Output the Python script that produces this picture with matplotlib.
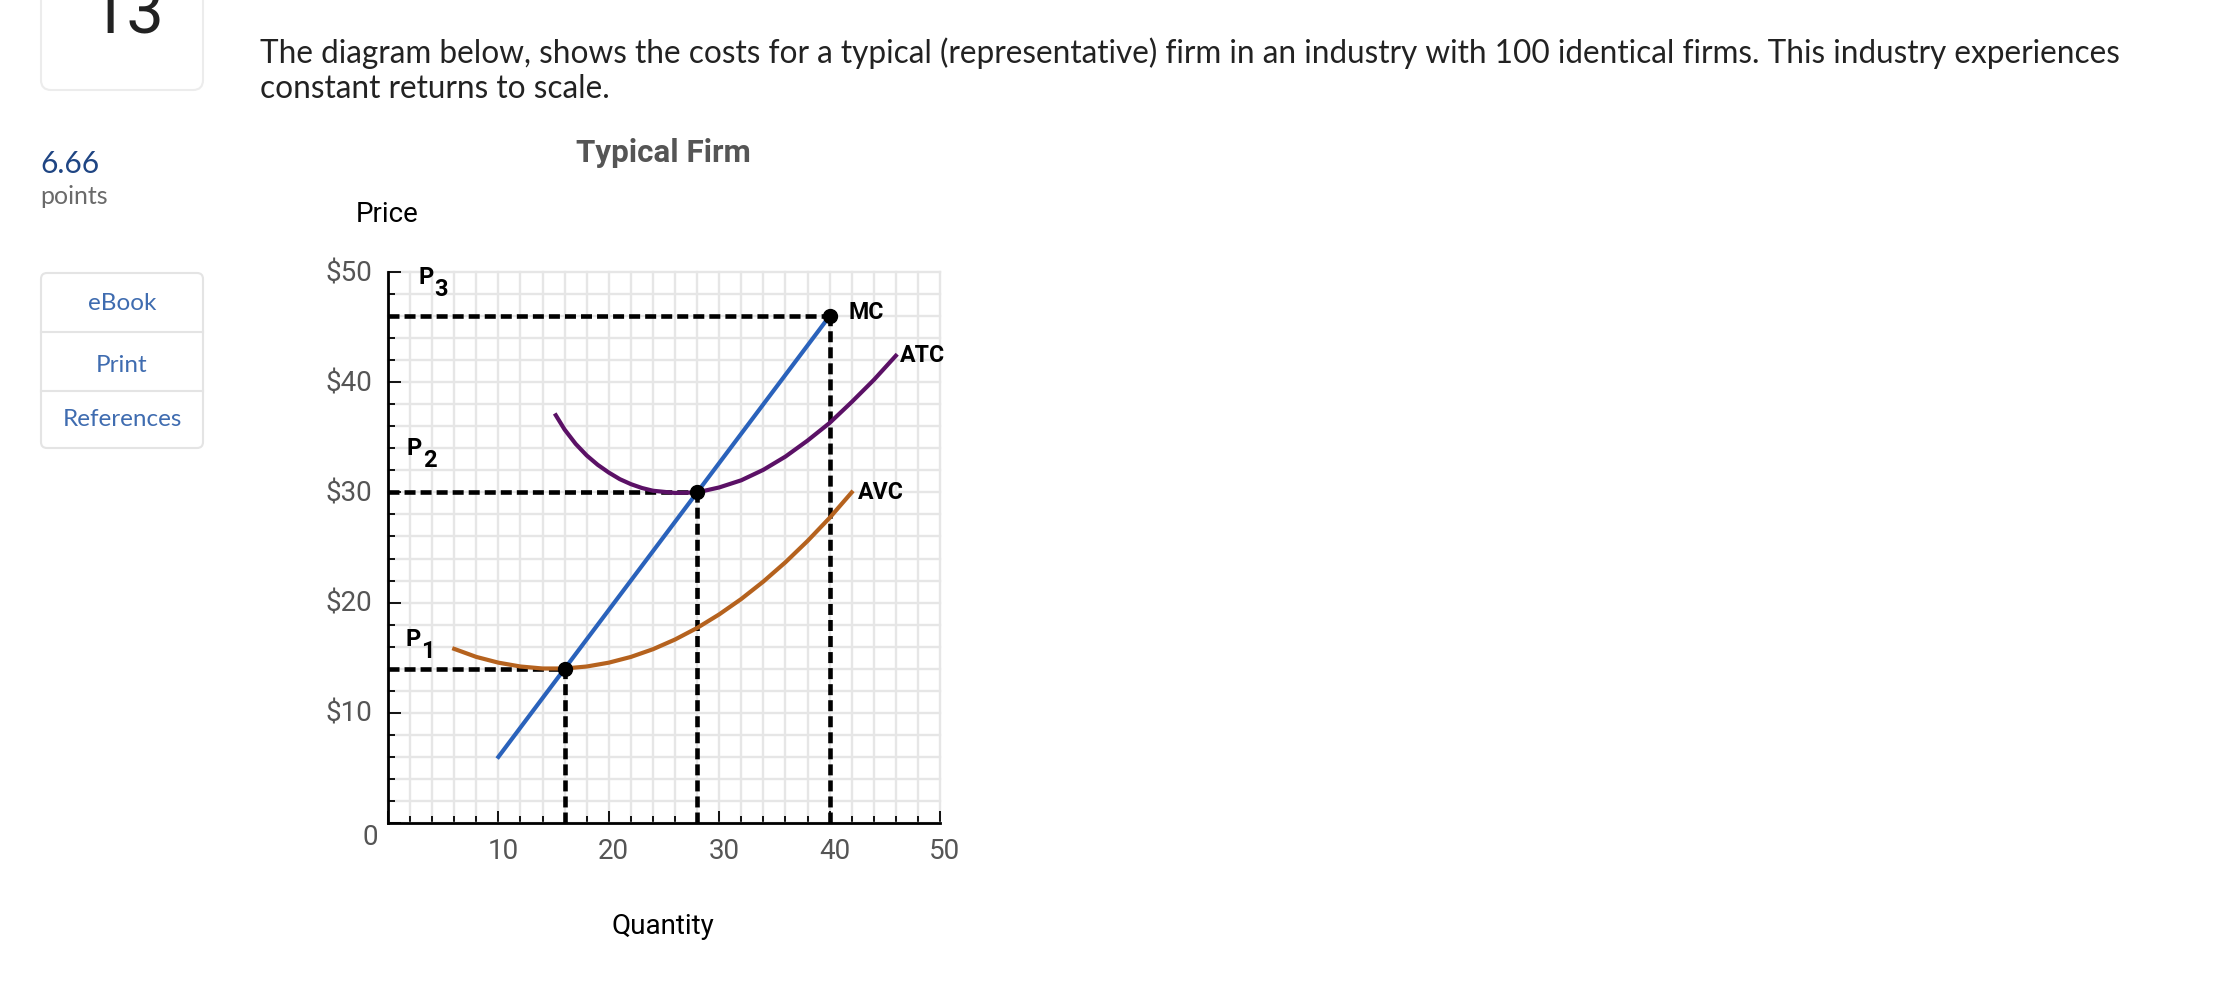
import matplotlib
matplotlib.use("Agg")
import matplotlib.pyplot as plt
from matplotlib.patches import FancyBboxPatch

W, H = 2218, 982

# values
mc_q = [10, 40]
mc_p = [6, 46]
atc_q = [15.2, 16, 17, 18, 19, 20, 21, 22, 23, 24, 26, 28, 30, 32, 34, 36, 38, 40, 42, 44, 46]
atc_p = [37.0, 35.7, 34.4, 33.35, 32.5, 31.8, 31.2, 30.75, 30.4, 30.15, 29.95, 30.0, 30.45, 31.1, 32.05, 33.25, 34.7, 36.3, 38.2, 40.2, 42.4]
avc_q = [6, 8, 10, 12, 14, 16, 18, 20, 22, 24, 26, 28, 30, 32, 34, 36, 38, 40, 42]
avc_p = [15.8, 15.07, 14.55, 14.2, 14.02, 14.02, 14.2, 14.55, 15.07, 15.77, 16.65, 17.7, 18.93, 20.33, 21.91, 23.66, 25.59, 27.69, 30.0]
point_q = [16, 28, 40]
point_p = [14, 30, 46]
x_labels = [10, 20, 30, 40, 50]
y_labels = ["$10", "$20", "$30", "$40", "$50"]
side_links = ["eBook", "Print", "References"]

plt.rcParams["font.family"] = ["Roboto", "DejaVu Sans"]

fig = plt.figure(figsize=(W / 100, H / 100), dpi=100)

# page coordinates in pixels, for the text around the chart
page = fig.add_axes([0, 0, 1, 1])
page.set_xlim(0, W)
page.set_ylim(H, 0)
page.axis("off")

page.add_patch(FancyBboxPatch((41, -60), 162, 150, boxstyle="round,pad=0,rounding_size=10",
                              fc="white", ec="#ececec", lw=1.5))
page.text(127, 33, "13", fontsize=48, color="#222222", ha="center", va="baseline")

page.text(40, 164, "6.66", fontsize=21.5, color="#1f4583", va="center", family="Lato")
page.text(40, 196, "points", fontsize=18, color="#6a6a6a", va="center", family="Lato")

page.add_patch(FancyBboxPatch((41, 273), 162, 175, boxstyle="round,pad=0,rounding_size=6",
                              fc="white", ec="#e4e4e4", lw=1.5))
for y in [332, 391]:
    page.plot([41, 203], [y, y], color="#e4e4e4", lw=1.5)
for label, y in zip(side_links, [304, 365, 420]):
    page.text(122, y, label, fontsize=17.5, color="#3f6cb0", ha="center", va="center", family="Lato")

page.text(260, 53, "The diagram below, shows the costs for a typical (representative) firm in an industry with 100 identical firms. This industry experiences",
          fontsize=22.7, color="#222222", va="center", family="Lato")
page.text(260, 89, "constant returns to scale.", fontsize=22.7, color="#222222", va="center", family="Lato")

page.text(663, 153, "Typical Firm", fontsize=22.6, color="#555555", weight="bold", ha="center", va="center")
page.text(387, 214, "Price", fontsize=20, color="black", ha="center", va="center")
page.text(663, 926, "Quantity", fontsize=20, color="black", ha="center", va="center")

# chart
ax = fig.add_axes([388 / W, 1 - 823 / H, 552 / W, 551 / H])
ax.set_xlim(0, 50)
ax.set_ylim(0, 50)
ax.patch.set_alpha(0)

# long ticks every 10 units, short ones every 2, all pointing inside
major = list(range(0, 51, 10))
minor = [v for v in range(0, 51, 2) if v % 10 != 0]
ax.set_xticks(major)
ax.set_xticks(minor, minor=True)
ax.set_yticks(major)
ax.set_yticks(minor, minor=True)
ax.grid(True, which="both", color="#e6e6e6", lw=1.7, zorder=0, clip_on=False)
ax.set_axisbelow(True)
ax.tick_params(which="major", direction="in", length=9, width=1.3, labelleft=False, labelbottom=False)
ax.tick_params(which="minor", direction="in", length=4.8, width=1.3)

for side in ["top", "right"]:
    ax.spines[side].set_visible(False)
for side in ["left", "bottom"]:
    ax.spines[side].set_linewidth(2)
    ax.spines[side].set_zorder(6)

for q, p in zip(point_q, point_p):
    ax.plot([0, q], [p, p], color="black", lw=3.3, dashes=(2.4, 1.1), zorder=3)
    ax.plot([q, q], [0, p], color="black", lw=3.3, dashes=(2.4, 1.1), zorder=3)

ax.plot(mc_q, mc_p, color="#2a62bb", lw=3, zorder=4)
ax.plot(atc_q, atc_p, color="#5b1166", lw=3, zorder=4, solid_joinstyle="round")
ax.plot(avc_q, avc_p, color="#b5621e", lw=3, zorder=4, solid_joinstyle="round")
ax.plot(point_q, point_p, "o", color="black", ms=10, zorder=5)

for q in x_labels:
    ax.text(q + 0.45, -2.6, str(q), fontsize=20, color="#555555", ha="center", va="center")
ax.text(-0.9, -1.3, "0", fontsize=20, color="#555555", ha="right", va="center")
for v, label in zip([10, 20, 30, 40, 50], y_labels):
    ax.text(-1.4, v - 0.15, label.replace("$", r"\$"), fontsize=20, color="#555555", ha="right", va="center")

curve_labels = [("MC", 41.7, 46.3), ("ATC", 46.4, 42.4), ("AVC", 42.6, 30.0)]
for label, q, p in curve_labels:
    ax.text(q, p, label, fontsize=16.7, weight="bold", color="black", va="center")

price_labels = [("P", "3", 2.75, 49.5), ("P", "2", 1.7, 33.95), ("P", "1", 1.55, 16.65)]
for letter, sub, q, p in price_labels:
    ax.text(q, p, letter, fontsize=17, weight="bold", color="black", va="center")
    ax.text(q + 1.45, p - 1.1, sub, fontsize=17, weight="bold", color="black", va="center")

fig.savefig("out.png", dpi=100)
